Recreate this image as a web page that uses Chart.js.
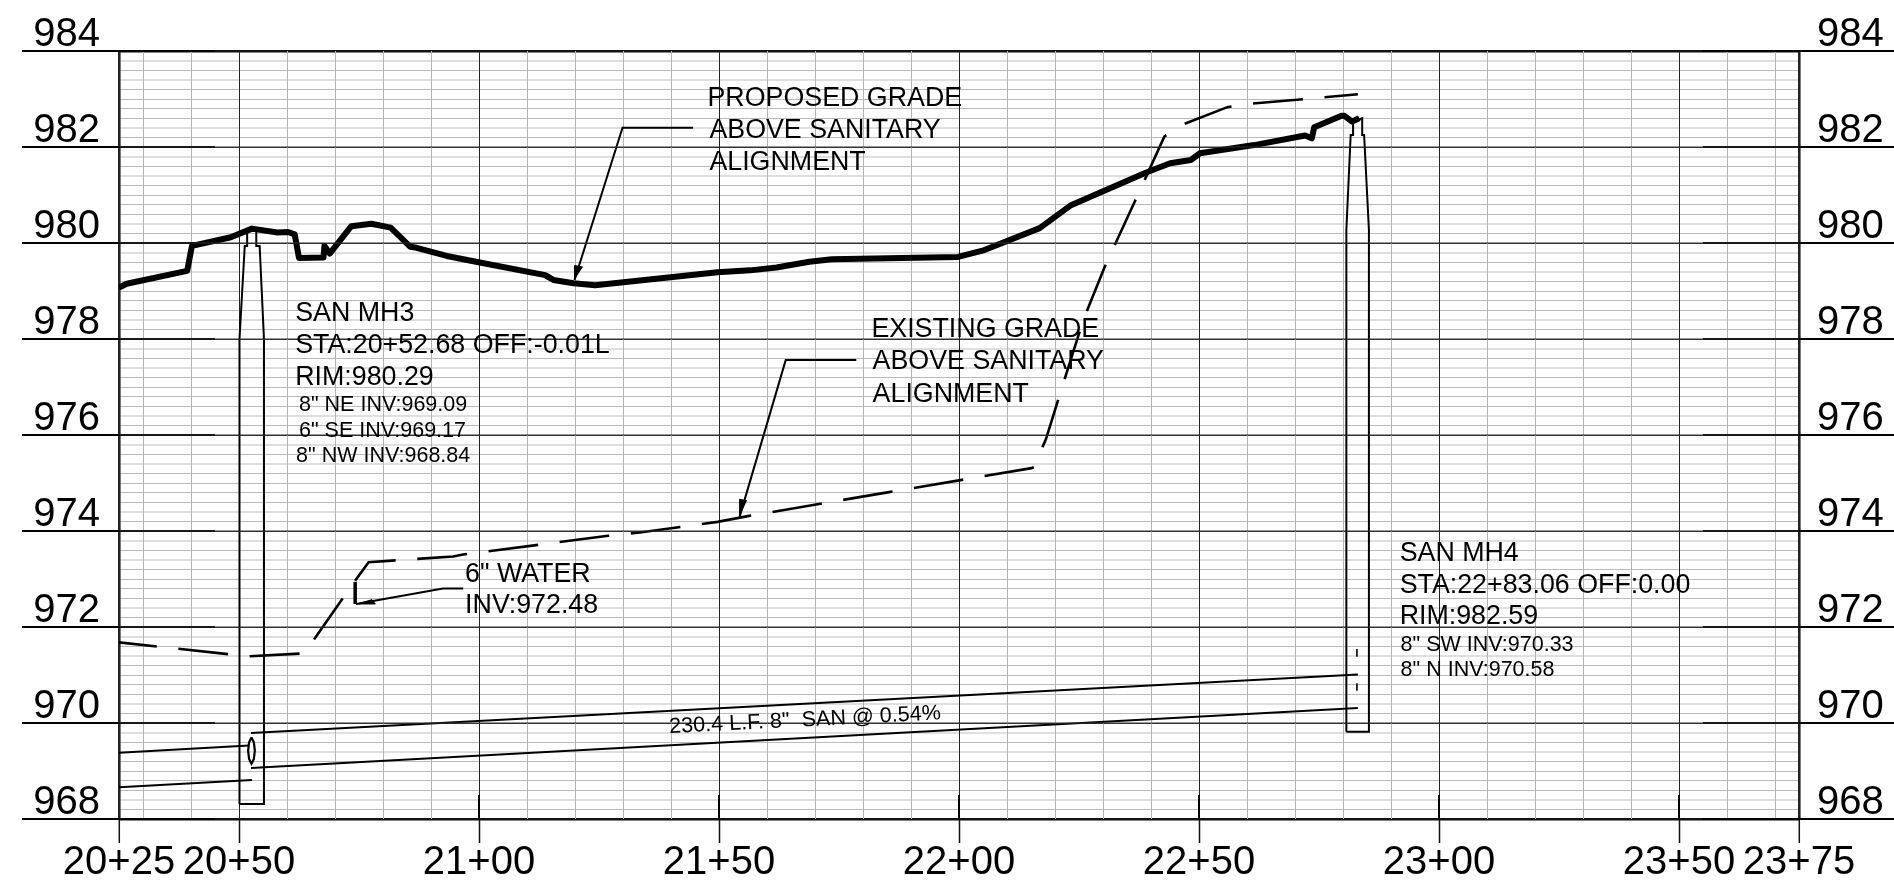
<!DOCTYPE html>
<html>
<head>
<meta charset="utf-8">
<style>html,body{margin:0;padding:0;background:#fff}canvas{display:block}</style>
<script src="https://cdn.jsdelivr.net/npm/chart.js@4/dist/chart.umd.min.js"></script>
</head>
<body>
<canvas id="c" width="1894" height="887" style="width:1894px;height:887px"></canvas>
<script>
// ---------- data (station in feet, elevation in feet) ----------
const stationLabels = {2025:'20+25',2050:'20+50',2100:'21+00',2150:'21+50',2200:'22+00',2250:'22+50',2300:'23+00',2350:'23+50',2375:'23+75'};
const minorStations = [2030,2040,2060,2070,2080,2090,2110,2120,2130,2140,2160,2170,2180,2190,2210,2220,2230,2240,2260,2270,2280,2290,2310,2320,2330,2340,2360,2370];
const elevLabels = [968,970,972,974,976,978,980,982,984];

const proposedSta = [2025,2026.6,2039.2,2040.2,2048.3,2052.7,2058,2060.2,2061.6,2062.5,2067.6,2067.8,2068.9,2073.4,2077.6,2081.6,2085.7,2087,2093.3,2099.9,2113.8,2115.5,2119.7,2124.2,2133.5,2149.7,2156.5,2162,2168.8,2173.5,2199.8,2204.9,2216.8,2223.2,2239,2244,2248.3,2250.2,2261.5,2272.1,2273.5,2274,2279.7,2280.3,2281.9,2283.4];
const proposedElev = [979.07,979.15,979.42,979.94,980.12,980.30,980.22,980.23,980.18,979.69,979.70,979.94,979.78,980.35,980.40,980.32,979.92,979.9,979.73,979.6,979.33,979.23,979.16,979.12,979.22,979.39,979.43,979.49,979.61,979.66,979.71,979.84,980.31,980.78,981.47,981.66,981.73,981.87,982.04,982.24,982.18,982.41,982.65,982.65,982.53,982.60];

const existingSta = [2025,2047.2,2052.1,2063.6,2074.0,2077,2094.6,2096.7,2126.9,2133.5,2149.7,2156,2185.4,2200.3,2215.1,2215.6,2218.1,2220.4,2224.9,2226.6,2230.3,2236.6,2242.8,2246.4,2255.9,2260.6,2271,2283.1];
const existingElev = [971.68,971.44,971.39,971.45,972.94,973.35,973.47,973.51,973.9,973.97,974.19,974.31,974.81,975.06,975.31,975.33,975.91,976.65,978.08,978.57,979.49,980.86,982.22,982.46,982.83,982.9,982.99,983.1];

const mainTopSta = [2052.5,2283.1],  mainTopElev = [969.79,971.01];
const mainBotSta = [2052.5,2283.1],  mainBotElev = [969.06,970.31];
const stubTopSta = [2025,2052.1],    stubTopElev = [969.38,969.53];
const stubBotSta = [2025,2052.7],    stubBotElev = [968.66,968.81];

const mh3Sta = [2050.1,2050.1,2051.2,2051.7,2051.7,2053.6,2053.6,2054.3,2055.2,2055.2,2050.1];
const mh3Elev = [968.31,978,979.94,979.94,980.25,980.25,979.94,979.94,978,968.31,968.31];
const mh4Sta = [2280.7,2280.7,2281.6,2282.1,2282.1,2284,2284,2284.4,2285.4,2285.4,2280.7];
const mh4Elev = [969.82,980.27,982.25,982.25,982.53,982.6,982.25,982.25,980.27,969.82,969.82];
const mh4CenterSta = [2282.9,2282.9,null,2282.9,2282.9];
const mh4CenterElev = [971.54,971.38,null,970.83,970.67];
const pipeEndSta = [2052.6,2053.1,2053.3,2053.1,2052.6,2052.1,2051.9,2052.1,2052.6];
const pipeEndElev = [969.70,969.6,969.42,969.25,969.15,969.25,969.42,969.6,969.70];

const waterSta = [2074.2,2074.2], waterElev = [972.48,972.94];
const leadPropSta = [2144.6,2129.9,2119.9], leadPropElev = [982.4,982.4,979.23];
const headPropSta = [2119.9,2119.9,2121.6], headPropElev = [979.23,979.53,979.5];
const leadExistSta = [2178.6,2163.9,2154.3], leadExistElev = [977.56,977.56,974.3];
const headExistSta = [2154.3,2154.3,2155.8], headExistElev = [974.3,974.66,974.63];
const leadWaterSta = [2096.7,2092.5,2074.4], leadWaterElev = [972.8,972.8,972.48];
const headWaterSta = [2074.4,2078.4,2077.6], headWaterElev = [972.48,972.48,972.58];

const tickStubStations = [2100,2150,2200,2250,2300,2350];

// ---------- text notes ----------
const noteLarge = [
 ['PROPOSED GRADE',2147.6,982.85],['ABOVE SANITARY',2148,982.19],['ALIGNMENT',2148,981.52],
 ['EXISTING GRADE',2181.75,978.05],['ABOVE SANITARY',2182,977.37],['ALIGNMENT',2182,976.69],
 ['SAN MH3',2061.7,978.38],['STA:20+52.68 OFF:-0.01L',2061.7,977.71],['RIM:980.29',2061.7,977.04],
 ['6" WATER',2097.1,972.94],['INV:972.48',2097.1,972.29],
 ['SAN MH4',2291.8,973.38],['STA:22+83.06 OFF:0.00',2291.8,972.71],['RIM:982.59',2291.8,972.06]
];
const noteSmall = [
 ['8" NE INV:969.09',2062.5,976.5],['6" SE INV:969.17',2062.5,975.96],['8" NW INV:968.84',2061.9,975.44],
 ['8" SW INV:970.33',2292,971.51],['8" N INV:970.58',2292,970.98]
];
const pipeNote = ['230.4 L.F. 8"  SAN @ 0.54%',2139.7,969.79];

// ---------- helpers ----------
const FONT = '"Liberation Sans", Arial, sans-serif';
const INK = '#000';
const xy = (xs,ys) => xs.map((x,i)=>({x:x,y:ys[i]}));
function line(xs,ys,width,extra){
  return Object.assign({data:xy(xs,ys),showLine:true,pointRadius:0,borderColor:INK,backgroundColor:INK,borderWidth:width,tension:0,spanGaps:false,yAxisID:'y'},extra||{});
}
// major elevation rules and the ticks that run past the frame
const sideTicks = [];
elevLabels.forEach(e=>{
  if(e!==968&&e!==984) sideTicks.push(line([2025,2375],[e,e],1,{borderColor:'#333'}));
  sideTicks.push(line([2004.8,2045],[e,e],2,{clip:false}));
  sideTicks.push(line([2355,2394.8],[e,e],2,{clip:false}));
});
const stubs = tickStubStations.map(s=>line([s,s],[968,968.5],2));

const notesPlugin = {
  id:'notes',
  afterDatasetsDraw(chart){
    const c = chart.ctx, X = chart.scales.x, Y = chart.scales.y;
    c.save();
    c.fillStyle = '#000';
    c.textBaseline = 'alphabetic';
    c.textAlign = 'left';
    c.font = '26.8px '+FONT;
    noteLarge.forEach(n=>c.fillText(n[0],X.getPixelForValue(n[1]),Y.getPixelForValue(n[2])));
    c.font = '21.5px '+FONT;
    noteSmall.forEach(n=>c.fillText(n[0],X.getPixelForValue(n[1]),Y.getPixelForValue(n[2])));
    c.translate(X.getPixelForValue(pipeNote[1]),Y.getPixelForValue(pipeNote[2]));
    c.rotate(-2.9*Math.PI/180);
    c.font = '21.6px '+FONT;
    c.fillText(pipeNote[0],0,0);
    c.restore();
  }
};

const isMajorElev = v => Math.round(v*5)%10===0;
const kOf = v => Math.round((984-v)*5);

new Chart(document.getElementById('c'),{
  type:'scatter',
  data:{datasets:[
    ...sideTicks,
    ...stubs,
    line(mh3Sta,mh3Elev,2),
    line(mh4Sta,mh4Elev,2),
    line(mh4CenterSta,mh4CenterElev,1.6),
    line(mainTopSta,mainTopElev,2),
    line(mainBotSta,mainBotElev,2),
    line(stubTopSta,stubTopElev,2),
    line(stubBotSta,stubBotElev,2),
    line(pipeEndSta,pipeEndElev,2.2),
    line(existingSta,existingElev,2.6,{borderDash:[50,21.7],borderDashOffset:12}),
    line(waterSta,waterElev,3.5),
    line(leadPropSta,leadPropElev,2),
    line(headPropSta,headPropElev,1,{fill:'shape'}),
    line(leadExistSta,leadExistElev,2),
    line(headExistSta,headExistElev,1,{fill:'shape'}),
    line(leadWaterSta,leadWaterElev,2),
    line(headWaterSta,headWaterElev,1,{fill:'shape'}),
    line(proposedSta,proposedElev,6,{borderJoinStyle:'round'})
  ]},
  options:{
    responsive:false,animation:false,devicePixelRatio:1,
    layout:{padding:{top:51,left:0,right:0,bottom:0}},
    plugins:{legend:{display:false},tooltip:{enabled:false},title:{display:false}},
    events:[],
    scales:{
      x:{
        type:'linear',min:2025,max:2375,position:'bottom',
        afterBuildTicks(s){
          const all = Object.keys(stationLabels).map(Number).concat(minorStations).sort((a,b)=>a-b);
          s.ticks = all.map(v=>({value:v}));
        },
        afterFit(s){s.height=68;},
        border:{display:false},
        grid:{
          z:-1,
          drawOnChartArea:true,drawTicks:true,tickLength:24,
          color:c=>stationLabels[c.tick.value]?'#222':'#b5b5b5',
          lineWidth:c=>(c.tick.value===2025||c.tick.value===2375)?2.6:1,
          tickColor:c=>stationLabels[c.tick.value]?'#111':'rgba(0,0,0,0)',
          tickWidth:1.5
        },
        ticks:{
          autoSkip:false,maxRotation:0,minRotation:0,padding:0,color:'#000',
          font:{family:FONT,size:40,lineHeight:1},
          callback:v=>stationLabels[v]||''
        }
      },
      y:{
        type:'linear',min:968,max:984,position:'left',
        afterFit(s){s.width=119;},
        border:{display:false},
        grid:{
          z:-2,
          drawTicks:false,
          color:c=>{
            const v=c.tick.value,k=kOf(v);
            if(k===0||k===80) return '#111';
            if(isMajorElev(v)) return '#333';
            return (k%5===3||k%10===1)?'#dfdfdf':'#bbbbbb';
          },
          lineWidth:c=>{
            const v=c.tick.value,k=kOf(v);
            if(k===0||k===80) return 2.6;
            if(isMajorElev(v)) return 1;
            return (k%5===3||k%10===1)?2:1;
          }
        },
        ticks:{
          stepSize:0.2,autoSkip:false,padding:19,labelOffset:-16,color:'#000',
          font:{family:FONT,size:40,lineHeight:1},
          callback:v=>isMajorElev(v)?String(Math.round(v)):''
        }
      },
      y2:{
        type:'linear',min:968,max:984,position:'right',
        afterFit(s){s.width=95;},
        border:{display:false},
        grid:{display:false,drawOnChartArea:false,drawTicks:false},
        ticks:{
          stepSize:0.2,autoSkip:false,padding:18,labelOffset:-16,color:'#000',
          font:{family:FONT,size:40,lineHeight:1},
          callback:v=>isMajorElev(v)?String(Math.round(v)):''
        }
      }
    }
  },
  plugins:[notesPlugin]
});
</script>
</body>
</html>
